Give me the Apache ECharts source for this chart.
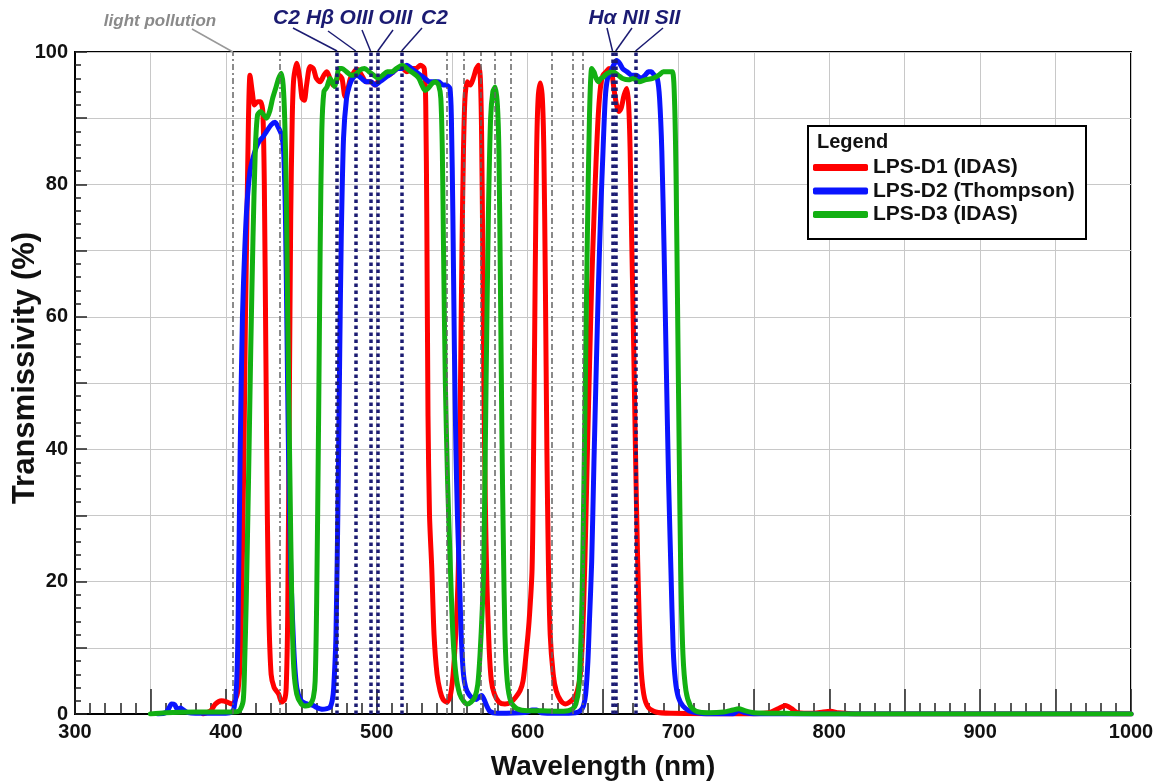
<!DOCTYPE html>
<html><head><meta charset="utf-8">
<script src="https://cdn.jsdelivr.net/npm/echarts@6/dist/echarts.min.js"></script>
<style>html,body{margin:0;padding:0;background:#fff}#c{width:1162px;height:784px}</style>
</head><body><div id="c"></div>
<script>
// ---- data (wavelength nm, transmissivity %) ----
const seriesNames = ['LPS-D1 (IDAS)', 'LPS-D2 (Thompson)', 'LPS-D3 (IDAS)'];
const lpsD1 = [[385,0],[390,0.5],[393,1.5],[397,2],[401,1.8],[404,1.5],[406,2],[408,3.5],[409.5,8],[410.5,17],[412,40],[413,60],[414,75],[415,90],[416,96.5],[417.5,94],[419,92],[421,92.5],[423,92.5],[424.5,91],[425.5,80],[426.5,55],[427.5,30],[428.5,15],[430,6],[432,4],[435,3],[437,1.8],[439,2.2],[440,4],[441,15],[442,45],[443,75],[444,90],[445,96],[447,98.3],[449,96],[450.5,93],[452,92.7],[453.5,95],[455.8,97.8],[458,97.5],[460,96],[462.5,95.5],[465,96.5],[467,97],[469,96],[471,95],[473,95.5],[475,96.5],[477,96],[479,93.3],[480.5,94],[482.5,96],[485,97],[487,97.4],[490,96.5],[493,95.5],[496,95.5],[499,95],[502,96],[505,96.5],[508,96.5],[511,97],[514,97.5],[517,97.5],[520,97],[523,97.5],[526,97.5],[529,98],[531.5,97.5],[532.5,92],[533.2,75],[534,45],[535,30],[536.5,22],[538,12],[540,6],[542,3.5],[544,2.2],[546.5,1.8],[549,3],[551,7],[553,15],[554.2,23],[555.3,45],[556.5,70],[557.5,85],[558.5,93],[560,95.5],[562,95],[564,96],[566,97.5],[567.5,98],[568.7,96],[569.5,88],[570.3,70],[571,50],[572,32],[573,20],[574.5,10],[576,5],[578,3],[581,1.8],[585,1.5],[589,1.8],[592,2.5],[595,3.5],[597,5],[599,9],[601,14],[603,22],[604,40],[605,65],[606,85],[607,93],[608.4,95.3],[609.8,93],[610.8,85],[611.8,65],[612.8,40],[613.8,23],[615,12],[617,6],[619,3.5],[622,2],[625,1.5],[628,1.8],[631,2.5],[633,3.5],[635,6],[636.5,12],[638,23],[639.5,38],[641,52],[642.5,65],[644,75],[645.5,84],[647,91],[648.5,95],[650,96.5],[652,97],[654,97.5],[656,96.5],[657.5,94],[659,92],[660.5,91],[662,91.5],[664,93.5],[665.8,94.5],[667,92],[668,85],[669,72],[670,60],[671.5,40],[673,23],[675,8],[677,3],[680,1],[685,0.3],[695,0.1],[740,0],[760,0.2],[766,0.8],[771,1.3],[775,0.8],[779,0.2],[790,0.1],[796,0.3],[801,0.4],[806,0.2],[820,0],[1000,0]];
const lpsD2 = [[355,0],[360,0.2],[362,0.8],[364,1.5],[366,1.4],[368,0.7],[370,0.9],[372,0.6],[375,0.2],[380,0.1],[400,0.1],[404,0.3],[405.5,1],[407,4],[408,12],[409.5,40],[411,60],[412.5,70],[414,77],[416,82],[418,84],[420,85.5],[422,86.5],[424.7,87.2],[427,88],[430,89],[432.6,89.4],[435,88.5],[437,87.4],[438.3,85],[439.5,75],[440.5,58],[441.5,40],[443,22],[445,10],[447,4],[450,2],[454,1.5],[457.8,1.3],[460,1],[464,0.7],[467,0.8],[469,1],[470.5,2],[471.5,4],[473,12],[474.5,35],[475.5,55],[476.5,72],[478,87],[480,93],[482,95],[484,96],[487,96.5],[490,96],[493,95.5],[496,95.5],[499,95],[502,95.5],[505,96],[508,96.5],[511,97],[514,97.5],[517,97.5],[520,98],[523,97.5],[526,97],[529,96.5],[532,96],[535,95.5],[538,95.5],[541,95.5],[544,95],[546,95],[548.5,94.5],[549.5,90],[550.5,75],[551.5,55],[552.5,40],[553.5,30],[554.5,23],[556,12],[557.5,6],[559,4],[561,3],[563,2.5],[566,2.2],[568,2.6],[569.5,2.8],[571,2.3],[573,1.2],[575,0.4],[580,0.1],[595,0.2],[600,0.3],[603,0.6],[606,0.6],[609,0.2],[620,0.1],[632,0.2],[635,0.5],[637,1.2],[638.5,3],[640,8],[641,14],[642.5,23],[644,38],[645.5,52],[647,65],[648.5,76],[650,85],[651.5,93],[653,96],[655,97],[657,98],[659,98.7],[661,98.3],[663,97.5],[666,97],[669,96.5],[672,96.5],[675,96],[678,96.5],[680,97],[682,97],[684,96.5],[686,96],[687.5,93],[689,85],[690.5,70],[692,52],[693.5,35],[695,22],[696.5,10],[698,5],[700,2.5],[703,1.2],[707,0.5],[712,0.2],[720,0],[736,0],[740,0.5],[744,0.2],[750,0],[1000,0]];
const lpsD3 = [[350,0],[360,0.2],[380,0.3],[395,0.3],[405,0.3],[409,0.5],[411.5,2],[412.5,8],[413.5,17],[415,35],[416.5,55],[418,72],[419.5,85],[421,90.5],[423,91],[425,90.5],[427,90],[429,91],[431,93],[433,94.5],[435,96],[436.8,96.8],[438,95],[439,90],[440,80],[441,60],[442.5,35],[443.7,17],[445,7],[447,3],[450,1.5],[453,1.2],[456,1.5],[458,2.5],[459.2,5],[460.2,17],[461.5,45],[462.5,70],[463.6,88],[465,94],[467,94.7],[469,96],[470.5,95.5],[472,94.8],[473.5,96],[475,97.5],[477,97.5],[480,97],[483,96.5],[486,96.6],[489,97.3],[492,97.5],[495,97],[498,96.5],[501,96],[504,96.5],[507,97],[510,97],[513,97.5],[517,98],[520,97.5],[523,97],[526,96.5],[528,96],[530,95],[532,94.2],[534,94.5],[537,95.3],[539,95.5],[541,95],[542.5,93],[543.5,85],[544.3,70],[545.5,50],[547,35],[548.7,23],[550.5,12],[552.5,6],[555,3],[558,1.8],[560,1.5],[562.5,1.8],[565,2.5],[567,4.5],[568.5,9],[570,16],[571,23],[572.5,50],[574,75],[575.5,90],[577,94],[578.5,94.7],[580,92],[581,85],[582,65],[583,42],[584,25],[585,12],[586.5,5],[589,1.8],[593,0.8],[600,0.5],[610,0.5],[620,0.4],[627,0.5],[630,0.8],[632,1.5],[634,4],[635.5,12],[636.5,22],[638,45],[639.5,70],[641,90],[642.5,97.5],[644,97],[645.5,96],[647,95.5],[648.5,96],[650,96.2],[653,96.8],[656.8,97],[660,96.5],[663,96],[667,95.8],[670,96],[674,95.5],[678,95.8],[683,96],[687,96.5],[690,97],[693,97],[696,97],[697.5,92],[698.5,80],[699.5,60],[700.5,40],[701.5,22],[703,9],[705,3.5],[708,1.2],[712,0.4],[720,0.2],[730,0.3],[736,0.6],[740,0.8],[744,0.5],[750,0.2],[770,0.1],[800,0],[1000,0]];
const lightPollutionLines = [404.7, 435.8, 546.1, 557.7, 568.8, 578.3, 589.0, 615.7, 630.2, 636.4];
const emissionLines = [473.7, 486.1, 495.9, 500.7, 516.5, 656.3, 658.4, 671.6];
const emissionLabels = ['C2', 'Hβ', 'OIII', 'OIII', 'C2', 'Hα', 'NII', 'SII'];
const xTickLabels = [300, 400, 500, 600, 700, 800, 900, 1000];
const yTickLabels = [0, 20, 40, 60, 80, 100];

const FONT = '"Liberation Sans", Arial, sans-serif';
const NAVY = '#1b1b72';
const colors = ['#ff0000', '#0a14ff', '#12b012'];

const chart = echarts.init(document.getElementById('c'), null, {renderer: 'canvas'});

function curve(name, data, color, z) {
  return {
    name, type: 'line', data, showSymbol: false, symbol: 'none',
    smooth: 0.25, z, silent: true,
    lineStyle: {color, width: 5, cap: 'round', join: 'round'},
    itemStyle: {color}
  };
}

const option = {
  animation: false,
  backgroundColor: '#fff',
  grid: {left: 75, right: 31, top: 52, bottom: 70, outerBoundsMode: 'none', containLabel: false,
    show: true, borderColor: '#000', borderWidth: 2, backgroundColor: 'transparent'},
  xAxis: {
    type: 'value', min: 300, max: 1000, interval: 50,
    name: 'Wavelength (nm)', nameLocation: 'middle', nameGap: 39,
    nameTextStyle: {fontFamily: FONT, fontWeight: 'bold', fontSize: 28, color: '#111'},
    axisLine: {show: true, onZero: false, lineStyle: {color: '#000', width: 2}},
    axisTick: {show: true, inside: true, length: 25, lineStyle: {color: '#222', width: 1.5}},
    minorTick: {show: true, splitNumber: 5, length: 11, lineStyle: {color: '#222', width: 1.5}},
    splitLine: {show: true, lineStyle: {color: '#c8c8c8', width: 1}},
    axisLabel: {margin: 8, fontFamily: FONT, fontWeight: 'bold', fontSize: 20, color: '#111',
      formatter: v => xTickLabels.includes(v) ? String(v) : ''}
  },
  yAxis: {
    type: 'value', min: 0, max: 100, interval: 10,
    axisLine: {show: true, lineStyle: {color: '#000', width: 2}},
    axisTick: {show: true, inside: true, length: 12, lineStyle: {color: '#222', width: 1.5}},
    minorTick: {show: true, splitNumber: 5, length: 6, lineStyle: {color: '#222', width: 1.5}},
    splitLine: {show: true, lineStyle: {color: '#c8c8c8', width: 1}},
    axisLabel: {margin: 7, fontFamily: FONT, fontWeight: 'bold', fontSize: 20, color: '#111',
      formatter: v => yTickLabels.includes(v) ? String(v) : ''}
  },
  legend: {
    data: seriesNames, orient: 'vertical', left: 808, top: 157,
    icon: 'roundRect', itemWidth: 55, itemHeight: 7, itemGap: 2.5, padding: [0, 0, 0, 5],
    selectedMode: false, z: 20,
    textStyle: {fontFamily: FONT, fontWeight: 'bold', fontSize: 21, color: '#111', lineHeight: 21}
  },
  series: [
    curve(seriesNames[0], lpsD1, colors[0], 2),
    curve(seriesNames[1], lpsD2, colors[1], 3),
    curve(seriesNames[2], lpsD3, colors[2], 4),
    {
      name: 'light pollution', type: 'line', data: [], z: 6, silent: true,
      markLine: {silent: true, symbol: 'none', label: {show: false}, animation: false,
        lineStyle: {color: '#666', width: 1.5, type: [6, 3, 2, 3]},
        data: lightPollutionLines.map(v => ({xAxis: v}))}
    },
    {
      name: 'emission lines', type: 'line', data: [], z: 7, silent: true,
      markLine: {silent: true, symbol: 'none', label: {show: false}, animation: false,
        lineStyle: {color: NAVY, width: 3.5, type: [3.5, 3.5]},
        data: emissionLines.map(v => ({xAxis: v}))}
    }
  ]
};
chart.setOption(option);

// annotations: label positions (px) and leader lines to the top of each marker line
const labelCenters = [[286.5, 18], [320, 18], [356.5, 18], [395.5, 18], [434.5, 18], [602.5, 18], [636, 18], [667.5, 18]];
const leaderStarts = [[293, 28], [328, 31], [362, 30], [393, 30], [422, 28], [607, 28], [632, 28], [663, 28]];
const graphics = [];
graphics.push({type: 'text', z: 11, x: 25, y: 368, rotation: Math.PI / 2,
  style: {text: 'Transmissivity (%)', font: 'bold 31px ' + FONT, fill: '#111', align: 'center', verticalAlign: 'middle'}});
graphics.push({type: 'rect', z: 10, shape: {x: 808, y: 126, width: 278, height: 113},
  style: {fill: '#fff', stroke: '#000', lineWidth: 2}});
graphics.push({type: 'text', z: 11, x: 817, y: 132,
  style: {text: 'Legend', font: 'bold 20px ' + FONT, fill: '#111'}});
graphics.push({type: 'text', z: 11, x: 160, y: 21,
  style: {text: 'light pollution', font: 'italic bold 17px ' + FONT, fill: '#8a8a8a', align: 'center', verticalAlign: 'middle'}});
const lpTop = chart.convertToPixel({gridIndex: 0}, [lightPollutionLines[0], 100]);
graphics.push({type: 'line', z: 11, shape: {x1: 192, y1: 29, x2: lpTop[0], y2: lpTop[1]},
  style: {stroke: '#999', lineWidth: 1.5}});
emissionLines.forEach((w, i) => {
  graphics.push({type: 'text', z: 11, x: labelCenters[i][0], y: labelCenters[i][1],
    style: {text: emissionLabels[i], font: 'italic bold 21px ' + FONT, fill: NAVY, align: 'center', verticalAlign: 'middle'}});
  const p = chart.convertToPixel({gridIndex: 0}, [w, 100]);
  graphics.push({type: 'line', z: 11, shape: {x1: leaderStarts[i][0], y1: leaderStarts[i][1], x2: p[0], y2: p[1] - 1},
    style: {stroke: NAVY, lineWidth: 1.5}});
});
chart.setOption({graphic: graphics});
</script>
</body></html>
